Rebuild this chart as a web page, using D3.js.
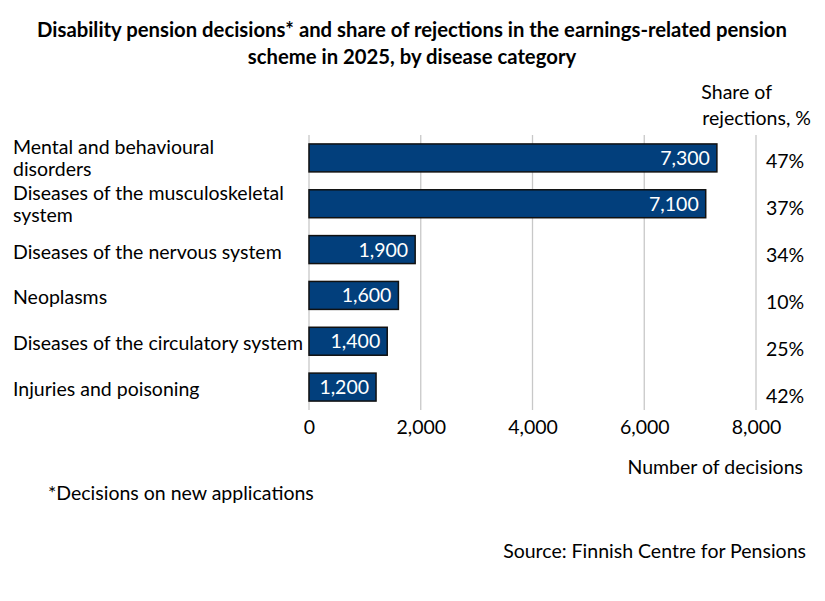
<!DOCTYPE html>
<html><head><meta charset="utf-8">
<script src="https://cdn.jsdelivr.net/npm/d3@7"></script>
<style>body{margin:0;background:#fff}svg{display:block}text{font-family:Lato,"Open Sans",sans-serif;fill:#000}</style>
</head><body>
<svg id="c" width="825" height="601"></svg>
<script>
const categories = [
  ["Mental and behavioural", "disorders"],
  ["Diseases of the musculoskeletal", "system"],
  ["Diseases of the nervous system"],
  ["Neoplasms"],
  ["Diseases of the circulatory system"],
  ["Injuries and poisoning"]
];
const decisions = [7300, 7100, 1900, 1600, 1400, 1200];
const rejectionShare = [47, 37, 34, 10, 25, 42];
const xTicks = [0, 2000, 4000, 6000, 8000];

(function () {
const svg = d3.select("#c");
const fs = 19.5;
const pLeft = 309, pRight = 756, pTop = 135, pBottom = 410;
const x = d3.scaleLinear().domain([0, 8000]).range([pLeft, pRight]);
const y = d3.scaleBand().domain(d3.range(categories.length)).range([pTop, pBottom]).paddingInner(0.39).paddingOuter(0.195);
const yLab = d3.scaleBand().domain(d3.range(categories.length)).range([137, 419]);
const fmt = d3.format(",");

// title
svg.append("text").attr("x", 412).attr("y", 37).attr("text-anchor", "middle")
  .style("font-weight", "bold").style("font-size", "20.3px")
  .text("Disability pension decisions* and share of rejections in the earnings-related pension");
svg.append("text").attr("x", 412).attr("y", 64).attr("text-anchor", "middle")
  .style("font-weight", "bold").style("font-size", "20.3px")
  .text("scheme in 2025, by disease category");

// gridlines
svg.append("g").selectAll("line").data(xTicks).join("line")
  .attr("x1", d => x(d)).attr("x2", d => x(d)).attr("y1", pTop).attr("y2", pBottom)
  .attr("stroke", "#c8c8c8").attr("stroke-width", 1.3);

// axis
const ax = svg.append("g").attr("transform", `translate(0,${pBottom})`)
  .call(d3.axisBottom(x).tickValues(xTicks).tickFormat(fmt).tickSize(0).tickPadding(10));
ax.select(".domain").remove();
ax.selectAll("text").style("font-size", fs + "px").style("font-family", "Lato,'Open Sans',sans-serif").attr("fill", "#000");

// bars
svg.append("g").selectAll("rect").data(decisions).join("rect")
  .attr("x", x(0)).attr("y", (d, i) => y(i))
  .attr("width", d => x(d) - x(0)).attr("height", y.bandwidth())
  .attr("fill", "#023F7C").attr("stroke", "#111").attr("stroke-width", 1.5);

// value labels
svg.append("g").selectAll("text").data(decisions).join("text")
  .attr("x", d => x(d) - 7).attr("y", (d, i) => y(i) + y.bandwidth() / 2)
  .attr("dy", "0.36em").attr("text-anchor", "end")
  .style("font-size", fs + "px").style("fill", "#fff")
  .text(d => fmt(d));

// category labels
const cat = svg.append("g").selectAll("text").data(categories).join("text")
  .attr("x", 13).attr("y", (d, i) => y(i) + y.bandwidth() / 2 + 2)
  .style("font-size", fs + "px");
cat.each(function(d) {
  const t = d3.select(this);
  const n = d.length;
  d.forEach((line, k) => {
    t.append("tspan").attr("x", 13)
      .attr("dy", k === 0 ? ((0.36 - (n - 1) * 0.68) + "em") : "1.15em")
      .text(line);
  });
});

// share labels
svg.append("g").selectAll("text").data(rejectionShare).join("text")
  .attr("x", 766).attr("y", (d, i) => yLab(i) + yLab.bandwidth() / 2)
  .attr("dy", "0.36em").style("font-size", fs + "px")
  .text(d => d + "%");

svg.append("text").attr("x", 772).attr("y", 99).attr("text-anchor", "end").style("font-size", fs + "px").text("Share of");
svg.append("text").attr("x", 811).attr("y", 125).attr("text-anchor", "end").style("font-size", fs + "px").text("rejections, %");

svg.append("text").attr("x", 803).attr("y", 474).attr("text-anchor", "end").style("font-size", fs + "px").text("Number of decisions");
svg.append("text").attr("x", 48).attr("y", 500).style("font-size", fs + "px").text("*Decisions on new applications");
svg.append("text").attr("x", 806).attr("y", 558).attr("text-anchor", "end").style("font-size", fs + "px").text("Source: Finnish Centre for Pensions");
})();
</script>
</body></html>
